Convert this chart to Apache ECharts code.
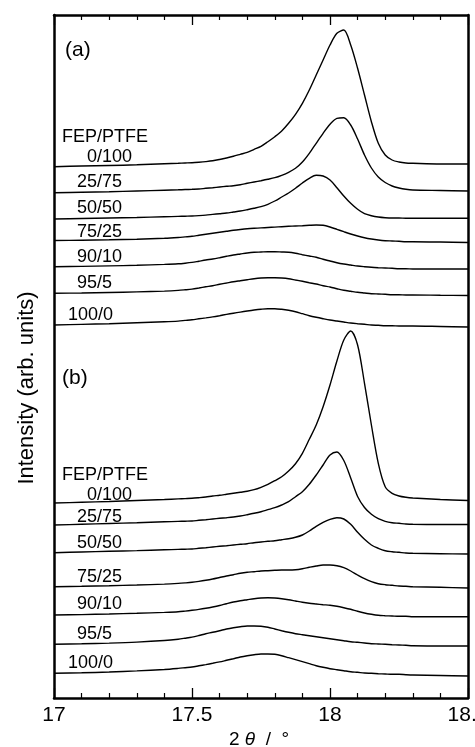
<!DOCTYPE html>
<html>
<head>
<meta charset="utf-8">
<script src="https://cdn.jsdelivr.net/npm/echarts@6/dist/echarts.min.js"></script>
<style>
html,body{margin:0;padding:0;background:#fff;}
#chart{width:475px;height:747px;}
</style>
</head>
<body>
<div id="chart"></div>
<script>
// 2θ sampling (degrees)
const twoTheta = [17.0,17.1,17.2,17.3,17.4,17.45,17.475,
  17.5,17.525,17.55,17.575,17.6,17.625,17.65,17.675,17.7,17.725,17.75,17.775,17.8,17.825,17.85,17.875,
  17.9,17.925,17.95,17.975,18.0,18.025,18.05,18.075,18.1,18.125,18.15,18.175,18.2,18.225,18.25,18.275,18.3,
  18.4,18.5];
const compositions = ["0/100","25/75","50/50","75/25","90/10","95/5","100/0"];

// Panel (a): vertical offsets and intensities (arb. units)
const offsetsA = [531, 505, 479, 457.5, 431, 404.7, 373];
const a_0_100 = [0.3,1,1.5,2.2,3.2,3.7,4.0, 4.3,4.8,5.4,6.2,7.5,9,10.7,12.7,14.7,17.7,20.7,25.3,30.3,36,43.7,52.7,63.7,77,92,107,122,133.7,137,122,98.7,72,45.3,23.7,12,7,5,4,3.7, 3,3];
const a_25_75 = [0.3,0.7,1.2,2,2.8,3.2,3.45, 3.7,4,4.7,5.3,6,6.7,7.3,8.3,9.7,11,12.3,13.7,15.3,17.7,20.7,24.7,31,39.7,49.7,59.7,68.7,74.7,75.3,68,54,38,25,16,10.5,7,5,3.7,3, 2.5,2];
const a_50_50 = [0,0.5,1,1.5,2.2,2.6,2.8, 3,3.4,3.9,4.6,5.3,6,7,8,9.3,10.7,12.3,14.7,18,22,26,30.7,36,40.7,43.7,43,39,31.3,23,15.7,9.7,5.3,3.3,2,1.3,1,1,0.7,0.7, 0.7,0.7];
const a_75_25 = [0,0.3,0.7,1.3,2.2,3,3.6, 4.2,5.2,6.2,7.2,8.2,9.2,10.2,11,11.7,12.2,12.6,13,13.4,13.8,14.2,14.5,14.8,15.2,15.5,15.2,13.5,11.2,8.8,6.5,4.5,2.8,1.5,0.5,-0.2,-0.5,-0.8,-1.2,-1.2, -1.5,-2];
const a_90_10 = [0.3,0.6,1.1,1.7,2.6,3.2,3.8, 4.6,5.8,7,8,9.3,10.7,12,13,14,14.7,15,15.3,15.3,15,14.7,13.7,12.3,11,9.7,7.7,6,4.3,3,2,1,0.3,-0.3,-0.7,-1,-1.3,-1.7,-1.7,-2, -2,-2];
const a_95_5  = [0,0.3,0.8,1.4,2.2,2.9,3.5, 4.2,5.3,6.5,7.6,9,10.3,11.6,12.6,13.6,14.6,15.3,15.6,15.6,15.3,14.6,13.3,12,10.6,9.3,7.6,6.3,4.6,3,2,1,0.3,-0.4,-0.7,-1,-1.4,-1.4,-1.7,-1.7, -2,-2.2];
const a_100_0 = [0,0.6,1.3,2.2,3.2,3.9,4.6, 5.3,6.2,7.1,8.1,9.3,10.6,11.8,12.9,14,15,15.8,16.3,16.3,15.7,14.7,13.3,11.3,9.3,7.7,6.3,5,4,3,2,1.3,0.7,0,-0.3,-0.7,-0.7,-1,-1,-1, -1.5,-2];

// Panel (b)
const offsetsB = [195, 173, 145.3, 111.3, 83, 53.7, 24.7];
const b_0_100 = [0,0.7,1.5,2.5,3.5,4.1,4.4, 4.7,5.3,6,7,7.7,8.7,9.7,10.7,11.7,13.3,15.7,18.7,22.3,26.3,32,39.3,49.7,63.7,78,96.3,118,142,163,172,158,119.7,78,39.7,16.3,9.7,7,5.7,5, 3.5,2.5];
const b_25_75 = [0,0.7,1.5,2.3,3.2,3.6,3.8, 4,4.7,5.3,6,6.7,7.3,8,9,10.3,11.7,13.3,15.3,17.3,20,23.3,28.3,33.3,40.7,50,60,70,73,64.5,47,28.5,17.5,10.7,6.3,3.7,2.3,1.7,1,0.7, 0.5,0.5];
const b_50_50 = [0,0.7,1.4,2.1,2.9,3.3,3.5, 3.7,4.4,5,5.7,6.4,7,7.7,8.4,9,10,10.7,11.4,12,13,14,15.4,17.7,21.7,26.4,30.4,33.4,35,33.7,28.4,20.4,13.4,7.7,4.4,2,1,0.4,-0.3,-0.6, -1,-1.3];
const b_75_25 = [0,0.4,1,1.7,2.6,3.3,3.8, 4.4,5.3,6.4,7.7,9.2,10.7,12,13.4,14.4,15,15.7,16,16.4,16.7,16.7,17,18,19.4,20.7,21.7,21.7,21,19,15.7,11.7,8,5,3,2,1.4,0.7,0.4,0, -0.6,-1.3];
const b_90_10 = [0,0.4,1,1.7,2.6,3.2,3.9, 4.7,5.6,6.7,8,9.5,11.3,13,14.3,15.3,16.3,17,17.3,17,16.3,15.3,14,12.7,11.7,11,10.3,9.7,8.7,7.3,5.7,3.7,2,0.7,-0.3,-0.7,-1,-1.3,-1.3,-1.7, -1.7,-1.7];
const b_95_5  = [0,0.5,1.2,2.2,3.8,5.1,6.1, 7.2,8.8,10.6,12,13.6,15.3,16.6,17.6,18.3,18.3,18,17,15.3,13.6,12,10.6,9.6,8.6,7.6,6.6,5.6,4.6,3.6,2.6,2,1.3,0.6,0.3,0,-0.4,-0.7,-1,-1.4, -1.7,-1.7];
const b_100_0 = [0,0.5,1.3,2.4,3.8,4.9,5.6, 6.3,7.5,8.7,10,11.4,13,14.6,16.3,17.6,18.6,19.3,19.3,19,17.6,15.6,13.6,11.6,9.6,7.6,6,4.6,3.6,2.6,1.6,1,0.3,0,-0.4,-0.7,-1,-1,-1.4,-1.7, -2.2,-2.7];

const seriesA = [a_0_100,a_25_75,a_50_50,a_75_25,a_90_10,a_95_5,a_100_0];
const seriesB = [b_0_100,b_25_75,b_50_50,b_75_25,b_90_10,b_95_5,b_100_0];
const xTicks = ["17","17.5","18","18.5"];

const FONT = '"Liberation Sans", Arial, Helvetica, sans-serif';

function mk(name, vals, off){
  return {
    name: name, type:'line', showSymbol:false, symbol:'none',
    smooth:0.3,
    lineStyle:{color:'#000', width:1.4},
    data: twoTheta.map((t,i)=>[t, off + vals[i]]),
    silent:true, animation:false
  };
}
const series = [];
seriesA.forEach((v,i)=>series.push(mk('(a) '+compositions[i], v, offsetsA[i])));
seriesB.forEach((v,i)=>series.push(mk('(b) '+compositions[i], v, offsetsB[i])));

const axisLine = {show:true, onZero:false, lineStyle:{color:'#000', width:2.5}};
const tickStyle = {show:true, inside:true, length:10, lineStyle:{color:'#000', width:1.3}};
const minorStyle = {show:true, splitNumber:5, length:5, lineStyle:{color:'#000', width:1.2}};

const labels = [
  {t:'(a)', x:65, y:50, fs:21},
  {t:'FEP/PTFE', x:62, y:136.7, fs:18},
  {t:compositions[0], x:87, y:156.7, fs:18},
  {t:compositions[1], x:77, y:181.7, fs:18},
  {t:compositions[2], x:77, y:208.3, fs:18},
  {t:compositions[3], x:77, y:232.2, fs:18},
  {t:compositions[4], x:77, y:256.7, fs:18},
  {t:compositions[5], x:77, y:283, fs:18},
  {t:compositions[6], x:68, y:315, fs:18},
  {t:'(b)', x:62, y:378, fs:21},
  {t:'FEP/PTFE', x:62, y:475, fs:18},
  {t:compositions[0], x:87, y:495, fs:18},
  {t:compositions[1], x:77, y:516.7, fs:18},
  {t:compositions[2], x:77, y:543.3, fs:18},
  {t:compositions[3], x:77, y:576.7, fs:18},
  {t:compositions[4], x:77, y:604, fs:18},
  {t:compositions[5], x:77, y:634.2, fs:18},
  {t:compositions[6], x:68, y:663.3, fs:18}
];

const graphic = labels.map(l=>({
  type:'text', x:l.x, y:l.y, silent:true,
  style:{text:l.t, fill:'#000', fontSize:l.fs, fontFamily:FONT, align:'left', verticalAlign:'middle'}
}));
graphic.push({
  type:'text', x:27, y:388, rotation:Math.PI/2, silent:true,
  style:{text:'Intensity (arb. units)', fill:'#000', fontSize:22, fontFamily:FONT, align:'center', verticalAlign:'middle'}
});
graphic.push({
  type:'text', x:259, y:740, silent:true,
  style:{text:'2 {i|θ}  /  °', fill:'#000', fontSize:19, fontFamily:FONT, align:'center', verticalAlign:'middle',
    rich:{i:{fontStyle:'italic', fontSize:19, fontFamily:FONT, fill:'#000'}}}
});

const chart = echarts.init(document.getElementById('chart'), null, {renderer:'canvas'});
chart.setOption({
  animation:false,
  backgroundColor:'#fff',
  grid:{left:54, right:7, top:15, bottom:49, containLabel:false, outerBoundsMode:'none'},
  xAxis:[
    {type:'value', position:'bottom', min:17, max:18.5, interval:0.5,
     axisLine:axisLine, axisTick:tickStyle, minorTick:minorStyle, splitLine:{show:false},
     axisLabel:{show:true, color:'#000', fontSize:21, fontFamily:FONT, margin:7,
       alignMinLabel:'center', alignMaxLabel:'center', hideOverlap:false,
       formatter:(v)=>{const i=Math.round((v-17)/0.5); return xTicks[i]!==undefined?xTicks[i]:'';}}},
    {type:'value', position:'top', min:17, max:18.5, interval:0.5,
     axisLine:axisLine, axisTick:tickStyle, minorTick:minorStyle, splitLine:{show:false},
     axisLabel:{show:false}}
  ],
  yAxis:[
    {type:'value', position:'left', min:0, max:683,
     axisLine:axisLine, axisTick:{show:false}, axisLabel:{show:false}, splitLine:{show:false}},
    {type:'value', position:'right', min:0, max:683,
     axisLine:axisLine, axisTick:{show:false}, axisLabel:{show:false}, splitLine:{show:false}}
  ],
  series: series,
  graphic: graphic
});
</script>
</body>
</html>
